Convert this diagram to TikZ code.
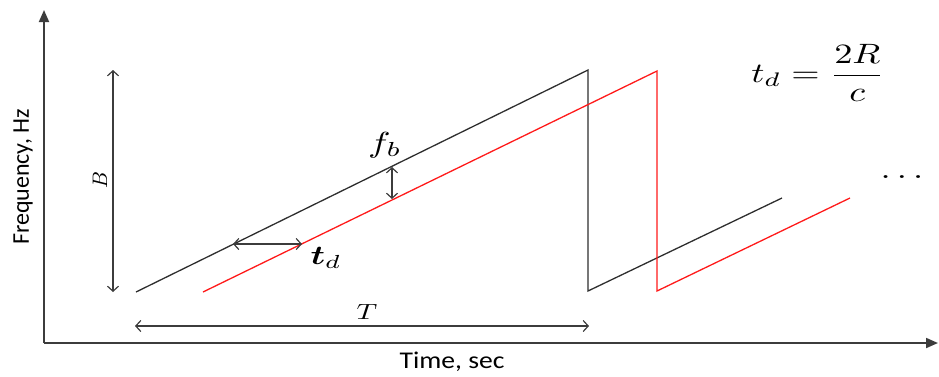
\documentclass[tikz,border=0pt]{standalone}
\usepackage{amsmath}
\usepackage{fontspec}
\setsansfont{Carlito}
\usepackage{tikz}
\usetikzlibrary{arrows.meta, positioning}
\definecolor{axisgray}{HTML}{3C3C3C}
\definecolor{chirpblack}{HTML}{2E2E2E}
\definecolor{chirpred}{HTML}{FF1A1A}

\begin{document}
\begin{tikzpicture}[x=1pt, y=-1pt,
    axis/.style={draw=axisgray, line width=1.8pt, -{Triangle[length=12pt, width=10pt]}},
    dimline/.style={draw=axisgray, line width=1.2pt, {Straight Barb[length=5pt, width=11pt]}-{Straight Barb[length=5pt, width=11pt]}},
    txchirp/.style={draw=chirpblack, line width=1.3pt},
    rxchirp/.style={draw=chirpred, line width=1.3pt},
    axislabel/.style={inner sep=0pt, font=\sffamily\fontsize{24}{28}\selectfont},
    mathlabel/.style={inner sep=0pt, font=\fontsize{10}{12}\selectfont, xscale=1.3*#1, yscale=#1}]
\useasboundingbox (0,0) rectangle (939,376);

\coordinate (origin) at (44,343);
\coordinate (ytip) at (44,10);
\coordinate (xtip) at (938,343);
\draw[axis] (origin) -- (ytip);
\draw[axis] (origin) -- (xtip);

\node[axislabel, rotate=90] (freqlabel) at (23,177) {Frequency, Hz};
\node[axislabel, xscale=1.15] (timelabel) at (452,362) {Time, sec};

\coordinate (tx0) at (136,292);
\coordinate (tx1) at (588,70);
\coordinate (tx2) at (588,291);
\coordinate (tx3) at (782,198);
\coordinate (rx0) at (203,292);
\coordinate (rx1) at (657,71);
\coordinate (rx2) at (657,291);
\coordinate (rx3) at (850,198);
\draw[txchirp] (tx0) -- (tx1) -- (tx2) -- (tx3);
\draw[rxchirp] (rx0) -- (rx1) -- (rx2) -- (rx3);

\coordinate (btop) at (113,70);
\coordinate (bbot) at (113,292);
\coordinate (tleft) at (135,326);
\coordinate (tright) at (589,326);
\coordinate (tdleft) at (233,244);
\coordinate (tdright) at (302,244);
\coordinate (fbtop) at (392,167);
\coordinate (fbbot) at (392,199);
\draw[dimline] (btop) -- (bbot);
\draw[dimline] (tleft) -- (tright);
\draw[dimline] (tdleft) -- (tdright);
\draw[dimline] (fbtop) -- (fbbot);

\node[inner sep=0pt, font=\fontsize{10}{12}\selectfont, rotate=90, scale=2.1] (blabel) at (100,180) {$B$};
\node[mathlabel=2.2] (tlabel) at (367,312) {$T$};
\node[mathlabel=2.7] (tdlabel) at (326,258) {$\boldsymbol{t}_{d}$};
\node[mathlabel=2.9] (fblabel) at (385,145) {$f_{b}$};
\node[mathlabel=2.8] (formula) at (818,73) {$\displaystyle t_{d}=\frac{2R}{c}$};
\node[mathlabel=2.8] (dots) at (905,177) {$\dots$};
\end{tikzpicture}
\end{document}
